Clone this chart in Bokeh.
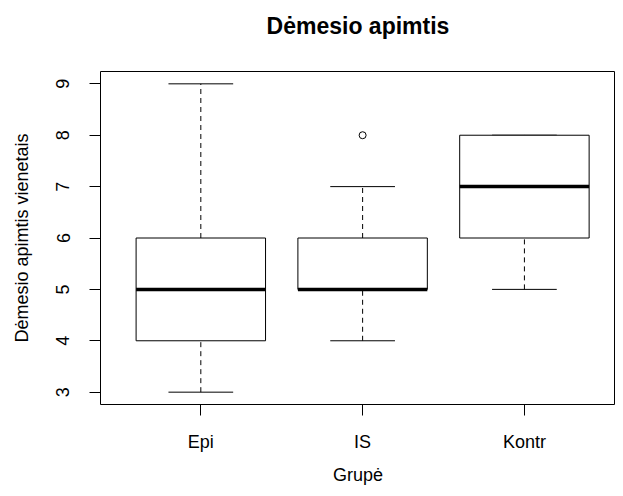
from bokeh.plotting import figure
from bokeh.models import Range1d, FixedTicker, ColumnDataSource, Title
from bokeh.embed import file_html
from bokeh.resources import INLINE

# Data
title_text = "Dėmesio apimtis"
groups = ["Epi", "IS", "Kontr"]
positions = [1, 2, 3]
whisker_low = [3, 4, 5]
q1 = [4, 5, 6]
median = [5, 5, 7]
q3 = [6, 6, 8]
whisker_high = [9, 7, 8]
outlier_group_pos = [2]
outlier_values = [8]

FONT = "Liberation Sans"
W, H = 615, 488
BL, BB, BT = 100, 84, 71

p = figure(width=W, height=H, output_backend="svg", toolbar_location=None,
           x_range=Range1d(0.38, 3.563), y_range=Range1d(2.76, 9.24),
           min_border_left=BL, min_border_right=0, min_border_bottom=BB, min_border_top=BT)

# spacer between frame and title, then the title itself (outermost)
p.add_layout(Title(text=" ", text_font=FONT, text_font_size="10px", standoff=20), "above")
p.add_layout(Title(text=title_text, text_font=FONT, text_font_size="23px", text_font_style="bold",
                   text_color="black", align="center", standoff=0), "above")

p.xgrid.visible = False
p.ygrid.visible = False
p.outline_line_color = "black"
p.outline_line_width = 1
p.background_fill_color = "white"
p.border_fill_color = "white"

src = ColumnDataSource(dict(x=positions, wl=whisker_low, q1=q1, med=median, q3=q3, wh=whisker_high,
                            cl=[x - 0.2 for x in positions], cr=[x + 0.2 for x in positions],
                            bl=[x - 0.4 for x in positions], br=[x + 0.4 for x in positions]))

# whiskers (dashed)
p.segment(x0="x", y0="q3", x1="x", y1="wh", source=src, line_color="black", line_width=1, line_dash="5 4")
p.segment(x0="x", y0="wl", x1="x", y1="q1", source=src, line_color="black", line_width=1, line_dash="5 4")
# caps
p.segment(x0="cl", y0="wh", x1="cr", y1="wh", source=src, line_color="black", line_width=1)
p.segment(x0="cl", y0="wl", x1="cr", y1="wl", source=src, line_color="black", line_width=1)
# boxes
p.vbar(x="x", width=0.8, bottom="q1", top="q3", source=src, fill_color="white", line_color="black", line_width=1)
# medians
p.segment(x0="bl", y0="med", x1="br", y1="med", source=src, line_color="black", line_width=3.5)
# outliers
p.scatter(outlier_group_pos, outlier_values, marker="circle", size=7, fill_color="white",
          line_color="black", line_width=1)

for ax in (p.xaxis[0], p.yaxis[0]):
    ax.axis_line_color = None
    ax.major_tick_out = 11
    ax.major_tick_in = 0
    ax.minor_tick_line_color = None
    ax.major_tick_line_color = "black"
    ax.major_label_text_font = FONT
    ax.major_label_text_font_size = "18px"
    ax.major_label_text_color = "black"
    ax.axis_label_text_font = FONT
    ax.axis_label_text_font_size = "18px"
    ax.axis_label_text_font_style = "normal"
    ax.axis_label_text_color = "black"

p.xaxis.ticker = FixedTicker(ticks=positions)
p.xaxis.major_label_overrides = {pos: g for pos, g in zip(positions, groups)}
p.xaxis.major_label_standoff = 16
p.xaxis.axis_label = "Grupė"
p.xaxis.axis_label_standoff = 10

p.yaxis.ticker = FixedTicker(ticks=[3, 4, 5, 6, 7, 8, 9])
p.yaxis.major_label_orientation = "vertical"
p.yaxis.major_label_standoff = 20
p.yaxis.axis_label = "Dėmesio apimtis vienetais"
p.yaxis.axis_label_standoff = 22

open("out.html", "w").write(file_html(p, INLINE))
